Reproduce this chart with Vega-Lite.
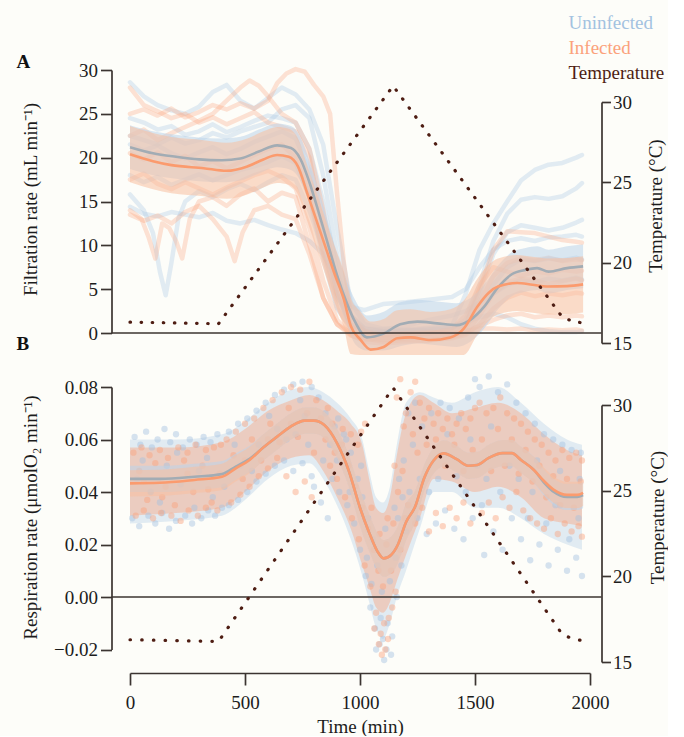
{
"$schema":"https://vega.github.io/schema/vega-lite/v6.json",
"background":"#fdfdf9",
"padding":{"left":16,"top":13,"right":0,"bottom":0},
"bounds":"flush",
"spacing":44,
"config":{
 "view":{"stroke":null},
 "font":"Liberation Serif",
 "axis":{"labelFont":"Liberation Serif","titleFont":"Liberation Serif","labelFontSize":19,"titleFontSize":19,"titleFontWeight":"normal","labelColor":"#1c1c1c","titleColor":"#1c1c1c","domainColor":"#3b3431","tickColor":"#3b3431","domainWidth":1.7,"tickWidth":1.7,"tickSize":11,"labelPadding":3,"grid":false,"labelFlush":false,"labelOverlap":false},
 "legend":{"labelFont":"Liberation Serif"},
 "title":{"font":"Liberation Serif"}
},
"datasets":{
"trA":[
{"g":"U","s":1,"t":0,"v":28.6},{"g":"U","s":1,"t":60,"v":27.0},{"g":"U","s":1,"t":120,"v":26.0},{"g":"U","s":1,"t":180,"v":25.4},{"g":"U","s":1,"t":240,"v":25.0},{"g":"U","s":1,"t":300,"v":25.8},{"g":"U","s":1,"t":360,"v":27.5},{"g":"U","s":1,"t":420,"v":28.3},{"g":"U","s":1,"t":480,"v":26.5},{"g":"U","s":1,"t":540,"v":25.6},{"g":"U","s":1,"t":600,"v":26.8},{"g":"U","s":1,"t":660,"v":28.0},{"g":"U","s":1,"t":720,"v":27.2},{"g":"U","s":1,"t":780,"v":25.5},{"g":"U","s":1,"t":840,"v":21.5},{"g":"U","s":1,"t":900,"v":12.0},{"g":"U","s":1,"t":960,"v":3.5},{"g":"U","s":1,"t":1020,"v":1.0},{"g":"U","s":1,"t":1100,"v":0.5},{"g":"U","s":1,"t":1200,"v":0.4},{"g":"U","s":1,"t":1300,"v":0.6},{"g":"U","s":1,"t":1400,"v":0.8},{"g":"U","s":1,"t":1460,"v":4.5},{"g":"U","s":1,"t":1520,"v":9.5},{"g":"U","s":1,"t":1580,"v":12.5},{"g":"U","s":1,"t":1640,"v":15.0},{"g":"U","s":1,"t":1700,"v":17.4},{"g":"U","s":1,"t":1760,"v":18.6},{"g":"U","s":1,"t":1820,"v":19.2},{"g":"U","s":1,"t":1880,"v":19.4},{"g":"U","s":1,"t":1940,"v":20.0},{"g":"U","s":1,"t":1965,"v":20.3},
{"g":"U","s":2,"t":0,"v":24.5},{"g":"U","s":2,"t":60,"v":24.0},{"g":"U","s":2,"t":120,"v":23.2},{"g":"U","s":2,"t":180,"v":23.6},{"g":"U","s":2,"t":240,"v":22.6},{"g":"U","s":2,"t":300,"v":23.0},{"g":"U","s":2,"t":360,"v":23.8},{"g":"U","s":2,"t":420,"v":22.9},{"g":"U","s":2,"t":480,"v":23.5},{"g":"U","s":2,"t":540,"v":24.2},{"g":"U","s":2,"t":600,"v":24.8},{"g":"U","s":2,"t":660,"v":24.5},{"g":"U","s":2,"t":720,"v":24.0},{"g":"U","s":2,"t":780,"v":21.0},{"g":"U","s":2,"t":840,"v":15.0},{"g":"U","s":2,"t":900,"v":7.0},{"g":"U","s":2,"t":960,"v":2.0},{"g":"U","s":2,"t":1020,"v":0.5},{"g":"U","s":2,"t":1100,"v":0.2},{"g":"U","s":2,"t":1200,"v":0.3},{"g":"U","s":2,"t":1300,"v":0.4},{"g":"U","s":2,"t":1400,"v":0.6},{"g":"U","s":2,"t":1460,"v":1.5},{"g":"U","s":2,"t":1520,"v":5.5},{"g":"U","s":2,"t":1580,"v":10.5},{"g":"U","s":2,"t":1640,"v":13.6},{"g":"U","s":2,"t":1700,"v":15.2},{"g":"U","s":2,"t":1760,"v":15.5},{"g":"U","s":2,"t":1820,"v":15.3},{"g":"U","s":2,"t":1880,"v":15.6},{"g":"U","s":2,"t":1940,"v":16.5},{"g":"U","s":2,"t":1965,"v":17.1},
{"g":"U","s":3,"t":0,"v":21.5},{"g":"U","s":3,"t":60,"v":20.8},{"g":"U","s":3,"t":120,"v":21.4},{"g":"U","s":3,"t":180,"v":20.5},{"g":"U","s":3,"t":240,"v":19.9},{"g":"U","s":3,"t":300,"v":20.6},{"g":"U","s":3,"t":360,"v":21.2},{"g":"U","s":3,"t":420,"v":20.4},{"g":"U","s":3,"t":480,"v":21.0},{"g":"U","s":3,"t":540,"v":21.8},{"g":"U","s":3,"t":600,"v":22.4},{"g":"U","s":3,"t":660,"v":23.0},{"g":"U","s":3,"t":720,"v":22.2},{"g":"U","s":3,"t":780,"v":18.5},{"g":"U","s":3,"t":840,"v":11.5},{"g":"U","s":3,"t":900,"v":4.5},{"g":"U","s":3,"t":960,"v":1.0},{"g":"U","s":3,"t":1020,"v":0.3},{"g":"U","s":3,"t":1100,"v":0.1},{"g":"U","s":3,"t":1200,"v":0.3},{"g":"U","s":3,"t":1300,"v":0.2},{"g":"U","s":3,"t":1400,"v":0.4},{"g":"U","s":3,"t":1460,"v":1.0},{"g":"U","s":3,"t":1520,"v":4.5},{"g":"U","s":3,"t":1580,"v":9.0},{"g":"U","s":3,"t":1640,"v":11.5},{"g":"U","s":3,"t":1700,"v":12.3},{"g":"U","s":3,"t":1760,"v":12.0},{"g":"U","s":3,"t":1820,"v":11.7},{"g":"U","s":3,"t":1880,"v":12.0},{"g":"U","s":3,"t":1940,"v":12.6},{"g":"U","s":3,"t":1965,"v":12.9},
{"g":"U","s":4,"t":0,"v":18.0},{"g":"U","s":4,"t":60,"v":17.2},{"g":"U","s":4,"t":120,"v":17.8},{"g":"U","s":4,"t":180,"v":16.9},{"g":"U","s":4,"t":240,"v":17.5},{"g":"U","s":4,"t":300,"v":18.1},{"g":"U","s":4,"t":360,"v":17.4},{"g":"U","s":4,"t":420,"v":18.0},{"g":"U","s":4,"t":480,"v":18.6},{"g":"U","s":4,"t":540,"v":19.0},{"g":"U","s":4,"t":600,"v":19.5},{"g":"U","s":4,"t":660,"v":20.2},{"g":"U","s":4,"t":720,"v":19.4},{"g":"U","s":4,"t":780,"v":15.5},{"g":"U","s":4,"t":840,"v":8.5},{"g":"U","s":4,"t":900,"v":2.8},{"g":"U","s":4,"t":960,"v":0.6},{"g":"U","s":4,"t":1020,"v":0.1},{"g":"U","s":4,"t":1100,"v":0.0},{"g":"U","s":4,"t":1200,"v":0.2},{"g":"U","s":4,"t":1300,"v":0.4},{"g":"U","s":4,"t":1400,"v":0.6},{"g":"U","s":4,"t":1460,"v":0.9},{"g":"U","s":4,"t":1520,"v":2.5},{"g":"U","s":4,"t":1580,"v":5.5},{"g":"U","s":4,"t":1640,"v":7.5},{"g":"U","s":4,"t":1700,"v":8.4},{"g":"U","s":4,"t":1760,"v":8.2},{"g":"U","s":4,"t":1820,"v":8.5},{"g":"U","s":4,"t":1880,"v":8.3},{"g":"U","s":4,"t":1940,"v":8.6},{"g":"U","s":4,"t":1965,"v":8.4},
{"g":"U","s":5,"t":0,"v":14.4},{"g":"U","s":5,"t":60,"v":13.6},{"g":"U","s":5,"t":120,"v":13.3},{"g":"U","s":5,"t":180,"v":13.8},{"g":"U","s":5,"t":240,"v":13.5},{"g":"U","s":5,"t":300,"v":13.2},{"g":"U","s":5,"t":360,"v":13.7},{"g":"U","s":5,"t":420,"v":12.8},{"g":"U","s":5,"t":480,"v":12.5},{"g":"U","s":5,"t":540,"v":12.9},{"g":"U","s":5,"t":600,"v":12.3},{"g":"U","s":5,"t":660,"v":11.8},{"g":"U","s":5,"t":720,"v":11.4},{"g":"U","s":5,"t":780,"v":10.5},{"g":"U","s":5,"t":840,"v":9.0},{"g":"U","s":5,"t":900,"v":6.0},{"g":"U","s":5,"t":960,"v":3.0},{"g":"U","s":5,"t":1020,"v":2.6},{"g":"U","s":5,"t":1100,"v":3.3},{"g":"U","s":5,"t":1200,"v":3.5},{"g":"U","s":5,"t":1300,"v":3.8},{"g":"U","s":5,"t":1400,"v":4.1},{"g":"U","s":5,"t":1460,"v":5.0},{"g":"U","s":5,"t":1520,"v":7.5},{"g":"U","s":5,"t":1580,"v":9.5},{"g":"U","s":5,"t":1640,"v":10.5},{"g":"U","s":5,"t":1700,"v":10.8},{"g":"U","s":5,"t":1760,"v":10.5},{"g":"U","s":5,"t":1820,"v":10.9},{"g":"U","s":5,"t":1880,"v":11.0},{"g":"U","s":5,"t":1940,"v":11.2},{"g":"U","s":5,"t":1965,"v":11.0},
{"g":"U","s":6,"t":0,"v":15.8},{"g":"U","s":6,"t":60,"v":14.0},{"g":"U","s":6,"t":100,"v":11.4},{"g":"U","s":6,"t":130,"v":7.0},{"g":"U","s":6,"t":155,"v":4.3},{"g":"U","s":6,"t":180,"v":8.0},{"g":"U","s":6,"t":210,"v":13.0},{"g":"U","s":6,"t":240,"v":15.0},{"g":"U","s":6,"t":300,"v":16.2},{"g":"U","s":6,"t":360,"v":15.5},{"g":"U","s":6,"t":420,"v":16.4},{"g":"U","s":6,"t":480,"v":17.0},{"g":"U","s":6,"t":540,"v":16.3},{"g":"U","s":6,"t":600,"v":17.2},{"g":"U","s":6,"t":660,"v":18.0},{"g":"U","s":6,"t":720,"v":17.5},{"g":"U","s":6,"t":780,"v":14.0},{"g":"U","s":6,"t":840,"v":9.5},{"g":"U","s":6,"t":900,"v":4.0},{"g":"U","s":6,"t":960,"v":1.2},{"g":"U","s":6,"t":1020,"v":0.5},{"g":"U","s":6,"t":1100,"v":0.4},{"g":"U","s":6,"t":1200,"v":0.8},{"g":"U","s":6,"t":1300,"v":1.5},{"g":"U","s":6,"t":1400,"v":2.0},{"g":"U","s":6,"t":1460,"v":2.5},{"g":"U","s":6,"t":1520,"v":3.5},{"g":"U","s":6,"t":1580,"v":4.5},{"g":"U","s":6,"t":1640,"v":5.5},{"g":"U","s":6,"t":1700,"v":6.0},{"g":"U","s":6,"t":1760,"v":5.8},{"g":"U","s":6,"t":1820,"v":6.2},{"g":"U","s":6,"t":1880,"v":6.0},{"g":"U","s":6,"t":1940,"v":6.3},{"g":"U","s":6,"t":1965,"v":6.1},
{"g":"U","s":7,"t":0,"v":22.5},{"g":"U","s":7,"t":60,"v":22.0},{"g":"U","s":7,"t":120,"v":21.5},{"g":"U","s":7,"t":180,"v":22.3},{"g":"U","s":7,"t":240,"v":21.6},{"g":"U","s":7,"t":300,"v":22.0},{"g":"U","s":7,"t":360,"v":22.8},{"g":"U","s":7,"t":420,"v":22.3},{"g":"U","s":7,"t":480,"v":23.0},{"g":"U","s":7,"t":540,"v":23.5},{"g":"U","s":7,"t":600,"v":24.0},{"g":"U","s":7,"t":660,"v":25.5},{"g":"U","s":7,"t":720,"v":26.0},{"g":"U","s":7,"t":780,"v":24.5},{"g":"U","s":7,"t":840,"v":18.0},{"g":"U","s":7,"t":900,"v":9.0},{"g":"U","s":7,"t":960,"v":2.0},{"g":"U","s":7,"t":1020,"v":0.5},{"g":"U","s":7,"t":1100,"v":0.2},{"g":"U","s":7,"t":1200,"v":0.3},{"g":"U","s":7,"t":1300,"v":0.5},{"g":"U","s":7,"t":1400,"v":0.8},{"g":"U","s":7,"t":1460,"v":1.2},{"g":"U","s":7,"t":1520,"v":1.8},{"g":"U","s":7,"t":1580,"v":2.2},{"g":"U","s":7,"t":1640,"v":1.8},{"g":"U","s":7,"t":1700,"v":1.0},{"g":"U","s":7,"t":1760,"v":0.5},{"g":"U","s":7,"t":1820,"v":0.2},{"g":"U","s":7,"t":1880,"v":0.1},{"g":"U","s":7,"t":1940,"v":0.1},{"g":"U","s":7,"t":1965,"v":0.2},
{"g":"I","s":1,"t":0,"v":25.0},{"g":"I","s":1,"t":60,"v":25.5},{"g":"I","s":1,"t":120,"v":24.8},{"g":"I","s":1,"t":180,"v":25.6},{"g":"I","s":1,"t":240,"v":24.6},{"g":"I","s":1,"t":300,"v":25.2},{"g":"I","s":1,"t":360,"v":26.0},{"g":"I","s":1,"t":420,"v":25.5},{"g":"I","s":1,"t":480,"v":26.2},{"g":"I","s":1,"t":540,"v":25.6},{"g":"I","s":1,"t":600,"v":26.5},{"g":"I","s":1,"t":640,"v":28.5},{"g":"I","s":1,"t":680,"v":29.6},{"g":"I","s":1,"t":720,"v":30.1},{"g":"I","s":1,"t":760,"v":29.8},{"g":"I","s":1,"t":800,"v":28.3},{"g":"I","s":1,"t":840,"v":27.0},{"g":"I","s":1,"t":870,"v":25.0},{"g":"I","s":1,"t":900,"v":16.0},{"g":"I","s":1,"t":930,"v":8.0},{"g":"I","s":1,"t":960,"v":2.0},{"g":"I","s":1,"t":1020,"v":0.2},{"g":"I","s":1,"t":1100,"v":-0.3},{"g":"I","s":1,"t":1200,"v":-0.2},{"g":"I","s":1,"t":1300,"v":0.0},{"g":"I","s":1,"t":1400,"v":0.2},{"g":"I","s":1,"t":1460,"v":1.0},{"g":"I","s":1,"t":1520,"v":5.0},{"g":"I","s":1,"t":1580,"v":9.5},{"g":"I","s":1,"t":1640,"v":11.6},{"g":"I","s":1,"t":1700,"v":11.5},{"g":"I","s":1,"t":1760,"v":11.4},{"g":"I","s":1,"t":1820,"v":11.0},{"g":"I","s":1,"t":1880,"v":10.6},{"g":"I","s":1,"t":1940,"v":10.4},{"g":"I","s":1,"t":1965,"v":10.3},
{"g":"I","s":2,"t":0,"v":28.0},{"g":"I","s":2,"t":60,"v":26.0},{"g":"I","s":2,"t":120,"v":25.3},{"g":"I","s":2,"t":180,"v":24.5},{"g":"I","s":2,"t":240,"v":25.0},{"g":"I","s":2,"t":300,"v":24.0},{"g":"I","s":2,"t":360,"v":24.6},{"g":"I","s":2,"t":420,"v":23.8},{"g":"I","s":2,"t":480,"v":24.5},{"g":"I","s":2,"t":540,"v":25.2},{"g":"I","s":2,"t":600,"v":24.0},{"g":"I","s":2,"t":660,"v":23.5},{"g":"I","s":2,"t":720,"v":23.0},{"g":"I","s":2,"t":780,"v":20.0},{"g":"I","s":2,"t":840,"v":12.0},{"g":"I","s":2,"t":900,"v":4.5},{"g":"I","s":2,"t":960,"v":0.8},{"g":"I","s":2,"t":1020,"v":-0.5},{"g":"I","s":2,"t":1100,"v":-0.8},{"g":"I","s":2,"t":1200,"v":-0.6},{"g":"I","s":2,"t":1300,"v":-0.4},{"g":"I","s":2,"t":1400,"v":-0.2},{"g":"I","s":2,"t":1460,"v":0.6},{"g":"I","s":2,"t":1520,"v":3.5},{"g":"I","s":2,"t":1580,"v":6.5},{"g":"I","s":2,"t":1640,"v":8.0},{"g":"I","s":2,"t":1700,"v":8.5},{"g":"I","s":2,"t":1760,"v":8.3},{"g":"I","s":2,"t":1820,"v":8.6},{"g":"I","s":2,"t":1880,"v":8.2},{"g":"I","s":2,"t":1940,"v":8.4},{"g":"I","s":2,"t":1965,"v":8.3},
{"g":"I","s":3,"t":0,"v":20.5},{"g":"I","s":3,"t":60,"v":19.8},{"g":"I","s":3,"t":120,"v":20.6},{"g":"I","s":3,"t":180,"v":19.5},{"g":"I","s":3,"t":240,"v":20.2},{"g":"I","s":3,"t":300,"v":19.0},{"g":"I","s":3,"t":360,"v":19.6},{"g":"I","s":3,"t":420,"v":18.8},{"g":"I","s":3,"t":480,"v":19.5},{"g":"I","s":3,"t":540,"v":20.3},{"g":"I","s":3,"t":600,"v":21.0},{"g":"I","s":3,"t":660,"v":21.5},{"g":"I","s":3,"t":720,"v":20.0},{"g":"I","s":3,"t":780,"v":16.0},{"g":"I","s":3,"t":840,"v":9.0},{"g":"I","s":3,"t":900,"v":3.0},{"g":"I","s":3,"t":960,"v":0.3},{"g":"I","s":3,"t":1020,"v":-0.6},{"g":"I","s":3,"t":1100,"v":-1.0},{"g":"I","s":3,"t":1200,"v":-0.8},{"g":"I","s":3,"t":1300,"v":-0.9},{"g":"I","s":3,"t":1400,"v":-0.5},{"g":"I","s":3,"t":1460,"v":0.0},{"g":"I","s":3,"t":1520,"v":2.0},{"g":"I","s":3,"t":1580,"v":4.5},{"g":"I","s":3,"t":1640,"v":5.8},{"g":"I","s":3,"t":1700,"v":6.2},{"g":"I","s":3,"t":1760,"v":6.0},{"g":"I","s":3,"t":1820,"v":5.6},{"g":"I","s":3,"t":1880,"v":5.9},{"g":"I","s":3,"t":1940,"v":6.2},{"g":"I","s":3,"t":1965,"v":6.0},
{"g":"I","s":4,"t":0,"v":17.5},{"g":"I","s":4,"t":60,"v":18.2},{"g":"I","s":4,"t":120,"v":17.0},{"g":"I","s":4,"t":180,"v":16.4},{"g":"I","s":4,"t":240,"v":17.2},{"g":"I","s":4,"t":300,"v":16.5},{"g":"I","s":4,"t":360,"v":15.8},{"g":"I","s":4,"t":420,"v":16.6},{"g":"I","s":4,"t":480,"v":17.3},{"g":"I","s":4,"t":540,"v":18.0},{"g":"I","s":4,"t":600,"v":18.5},{"g":"I","s":4,"t":660,"v":17.8},{"g":"I","s":4,"t":720,"v":16.5},{"g":"I","s":4,"t":780,"v":12.0},{"g":"I","s":4,"t":840,"v":6.0},{"g":"I","s":4,"t":900,"v":1.5},{"g":"I","s":4,"t":960,"v":-0.2},{"g":"I","s":4,"t":1020,"v":-1.0},{"g":"I","s":4,"t":1100,"v":-1.2},{"g":"I","s":4,"t":1200,"v":-1.0},{"g":"I","s":4,"t":1300,"v":-0.8},{"g":"I","s":4,"t":1400,"v":-0.6},{"g":"I","s":4,"t":1460,"v":-0.2},{"g":"I","s":4,"t":1520,"v":1.0},{"g":"I","s":4,"t":1580,"v":2.8},{"g":"I","s":4,"t":1640,"v":4.0},{"g":"I","s":4,"t":1700,"v":4.6},{"g":"I","s":4,"t":1760,"v":4.2},{"g":"I","s":4,"t":1820,"v":4.5},{"g":"I","s":4,"t":1880,"v":4.3},{"g":"I","s":4,"t":1940,"v":4.6},{"g":"I","s":4,"t":1965,"v":4.5},
{"g":"I","s":5,"t":0,"v":14.0},{"g":"I","s":5,"t":50,"v":13.0},{"g":"I","s":5,"t":80,"v":11.0},{"g":"I","s":5,"t":110,"v":8.5},{"g":"I","s":5,"t":140,"v":12.5},{"g":"I","s":5,"t":170,"v":12.0},{"g":"I","s":5,"t":200,"v":10.5},{"g":"I","s":5,"t":227,"v":8.5},{"g":"I","s":5,"t":260,"v":13.0},{"g":"I","s":5,"t":300,"v":15.0},{"g":"I","s":5,"t":360,"v":15.5},{"g":"I","s":5,"t":420,"v":14.5},{"g":"I","s":5,"t":480,"v":15.8},{"g":"I","s":5,"t":540,"v":16.5},{"g":"I","s":5,"t":600,"v":15.0},{"g":"I","s":5,"t":660,"v":16.0},{"g":"I","s":5,"t":720,"v":15.5},{"g":"I","s":5,"t":780,"v":10.0},{"g":"I","s":5,"t":840,"v":4.0},{"g":"I","s":5,"t":900,"v":1.0},{"g":"I","s":5,"t":960,"v":-0.3},{"g":"I","s":5,"t":1020,"v":-0.8},{"g":"I","s":5,"t":1100,"v":-0.6},{"g":"I","s":5,"t":1200,"v":-0.4},{"g":"I","s":5,"t":1300,"v":-0.5},{"g":"I","s":5,"t":1400,"v":-0.3},{"g":"I","s":5,"t":1460,"v":0.2},{"g":"I","s":5,"t":1520,"v":0.8},{"g":"I","s":5,"t":1580,"v":1.5},{"g":"I","s":5,"t":1640,"v":2.0},{"g":"I","s":5,"t":1700,"v":2.2},{"g":"I","s":5,"t":1760,"v":1.8},{"g":"I","s":5,"t":1820,"v":2.0},{"g":"I","s":5,"t":1880,"v":1.8},{"g":"I","s":5,"t":1940,"v":2.0},{"g":"I","s":5,"t":1965,"v":1.9},
{"g":"I","s":6,"t":0,"v":13.5},{"g":"I","s":6,"t":60,"v":12.8},{"g":"I","s":6,"t":120,"v":13.4},{"g":"I","s":6,"t":180,"v":12.5},{"g":"I","s":6,"t":240,"v":13.8},{"g":"I","s":6,"t":300,"v":14.5},{"g":"I","s":6,"t":360,"v":13.0},{"g":"I","s":6,"t":420,"v":11.0},{"g":"I","s":6,"t":455,"v":8.2},{"g":"I","s":6,"t":490,"v":11.5},{"g":"I","s":6,"t":540,"v":14.0},{"g":"I","s":6,"t":600,"v":14.5},{"g":"I","s":6,"t":660,"v":13.5},{"g":"I","s":6,"t":720,"v":13.0},{"g":"I","s":6,"t":780,"v":9.0},{"g":"I","s":6,"t":840,"v":4.0},{"g":"I","s":6,"t":900,"v":1.0},{"g":"I","s":6,"t":960,"v":0.0},{"g":"I","s":6,"t":1020,"v":-0.3},{"g":"I","s":6,"t":1100,"v":-0.2},{"g":"I","s":6,"t":1200,"v":0.0},{"g":"I","s":6,"t":1300,"v":0.1},{"g":"I","s":6,"t":1400,"v":0.0},{"g":"I","s":6,"t":1460,"v":0.2},{"g":"I","s":6,"t":1520,"v":0.5},{"g":"I","s":6,"t":1580,"v":0.5},{"g":"I","s":6,"t":1640,"v":0.4},{"g":"I","s":6,"t":1700,"v":0.5},{"g":"I","s":6,"t":1760,"v":0.3},{"g":"I","s":6,"t":1820,"v":0.4},{"g":"I","s":6,"t":1880,"v":0.3},{"g":"I","s":6,"t":1940,"v":0.4},{"g":"I","s":6,"t":1965,"v":0.3},
{"g":"I","s":7,"t":0,"v":22.5},{"g":"I","s":7,"t":60,"v":23.2},{"g":"I","s":7,"t":120,"v":22.0},{"g":"I","s":7,"t":180,"v":22.8},{"g":"I","s":7,"t":240,"v":23.5},{"g":"I","s":7,"t":300,"v":24.2},{"g":"I","s":7,"t":360,"v":25.0},{"g":"I","s":7,"t":420,"v":26.5},{"g":"I","s":7,"t":480,"v":28.0},{"g":"I","s":7,"t":520,"v":28.8},{"g":"I","s":7,"t":560,"v":28.2},{"g":"I","s":7,"t":600,"v":27.0},{"g":"I","s":7,"t":660,"v":25.0},{"g":"I","s":7,"t":720,"v":24.0},{"g":"I","s":7,"t":780,"v":21.0},{"g":"I","s":7,"t":840,"v":14.0},{"g":"I","s":7,"t":900,"v":5.0},{"g":"I","s":7,"t":960,"v":1.0},{"g":"I","s":7,"t":1020,"v":0.0},{"g":"I","s":7,"t":1100,"v":-0.5},{"g":"I","s":7,"t":1200,"v":-0.3},{"g":"I","s":7,"t":1300,"v":-0.1},{"g":"I","s":7,"t":1400,"v":0.5},{"g":"I","s":7,"t":1460,"v":2.0},{"g":"I","s":7,"t":1520,"v":5.5},{"g":"I","s":7,"t":1580,"v":7.5},{"g":"I","s":7,"t":1640,"v":7.0},{"g":"I","s":7,"t":1700,"v":6.5},{"g":"I","s":7,"t":1760,"v":7.0},{"g":"I","s":7,"t":1820,"v":6.8},{"g":"I","s":7,"t":1880,"v":7.2},{"g":"I","s":7,"t":1940,"v":7.0},{"g":"I","s":7,"t":1965,"v":7.1}
],
"mA":[
{"g":"U","t":0,"m":21.2,"lo":18.7,"hi":23.7},{"g":"U","t":100,"m":20.5,"lo":18.0,"hi":23.0},{"g":"U","t":200,"m":20.1,"lo":17.6,"hi":22.6},{"g":"U","t":300,"m":19.8,"lo":17.3,"hi":22.3},{"g":"U","t":400,"m":19.7,"lo":17.2,"hi":22.2},{"g":"U","t":480,"m":19.9,"lo":17.4,"hi":22.4},{"g":"U","t":560,"m":20.7,"lo":18.2,"hi":23.2},{"g":"U","t":640,"m":21.4,"lo":18.9,"hi":23.9},{"g":"U","t":700,"m":21.1,"lo":18.6,"hi":23.6},{"g":"U","t":740,"m":19.9,"lo":17.4,"hi":22.4},{"g":"U","t":780,"m":17.2,"lo":14.7,"hi":19.7},{"g":"U","t":820,"m":13.8,"lo":11.3,"hi":16.3},{"g":"U","t":860,"m":10.2,"lo":7.7,"hi":12.7},{"g":"U","t":900,"m":6.6,"lo":4.1,"hi":9.1},{"g":"U","t":940,"m":3.6,"lo":1.1,"hi":6.1},{"g":"U","t":980,"m":1.2,"lo":-1.3,"hi":3.7},{"g":"U","t":1030,"m":-0.5,"lo":-2.0,"hi":2.0},{"g":"U","t":1100,"m":-0.1,"lo":-2.0,"hi":2.4},{"g":"U","t":1175,"m":1.0,"lo":-1.5,"hi":3.5},{"g":"U","t":1250,"m":1.3,"lo":-1.2,"hi":3.8},{"g":"U","t":1335,"m":1.1,"lo":-1.4,"hi":3.6},{"g":"U","t":1420,"m":0.9,"lo":-1.6,"hi":3.4},{"g":"U","t":1480,"m":1.5,"lo":-1.0,"hi":4.0},{"g":"U","t":1540,"m":3.0,"lo":0.5,"hi":5.5},{"g":"U","t":1600,"m":5.2,"lo":2.7,"hi":7.7},{"g":"U","t":1660,"m":6.7,"lo":4.2,"hi":9.2},{"g":"U","t":1720,"m":7.2,"lo":4.7,"hi":9.7},{"g":"U","t":1770,"m":7.4,"lo":4.9,"hi":9.9},{"g":"U","t":1820,"m":7.0,"lo":4.5,"hi":9.5},{"g":"U","t":1900,"m":7.4,"lo":4.9,"hi":9.9},{"g":"U","t":1970,"m":7.6,"lo":5.1,"hi":10.1},
{"g":"I","t":0,"m":20.4,"lo":17.2,"hi":23.6},{"g":"I","t":100,"m":19.6,"lo":16.4,"hi":22.8},{"g":"I","t":180,"m":19.15,"lo":15.95,"hi":22.35},{"g":"I","t":320,"m":18.8,"lo":15.6,"hi":22.0},{"g":"I","t":420,"m":18.5,"lo":15.3,"hi":21.7},{"g":"I","t":510,"m":19.0,"lo":15.8,"hi":22.2},{"g":"I","t":580,"m":19.8,"lo":16.6,"hi":23.0},{"g":"I","t":640,"m":20.3,"lo":17.1,"hi":23.5},{"g":"I","t":690,"m":20.1,"lo":16.9,"hi":23.3},{"g":"I","t":730,"m":19.0,"lo":15.8,"hi":22.2},{"g":"I","t":770,"m":16.0,"lo":12.8,"hi":19.2},{"g":"I","t":810,"m":12.9,"lo":9.7,"hi":16.1},{"g":"I","t":850,"m":9.8,"lo":6.6,"hi":13.0},{"g":"I","t":890,"m":6.7,"lo":3.5,"hi":9.9},{"g":"I","t":930,"m":3.8,"lo":0.6,"hi":7.0},{"g":"I","t":960,"m":0.8,"lo":-2.4,"hi":4.0},{"g":"I","t":1000,"m":-0.7,"lo":-2.5,"hi":2.5},{"g":"I","t":1046,"m":-1.9,"lo":-2.5,"hi":1.3},{"g":"I","t":1103,"m":-1.6,"lo":-2.5,"hi":1.6},{"g":"I","t":1162,"m":-0.6,"lo":-2.5,"hi":2.6},{"g":"I","t":1220,"m":-0.5,"lo":-2.5,"hi":2.7},{"g":"I","t":1307,"m":-0.8,"lo":-2.5,"hi":2.4},{"g":"I","t":1393,"m":-0.5,"lo":-2.5,"hi":2.7},{"g":"I","t":1451,"m":0.5,"lo":-2.5,"hi":3.7},{"g":"I","t":1510,"m":3.0,"lo":-0.2,"hi":6.2},{"g":"I","t":1560,"m":4.6,"lo":1.4,"hi":7.8},{"g":"I","t":1600,"m":5.3,"lo":2.1,"hi":8.5},{"g":"I","t":1683,"m":5.7,"lo":2.5,"hi":8.9},{"g":"I","t":1750,"m":5.5,"lo":2.3,"hi":8.7},{"g":"I","t":1814,"m":5.3,"lo":2.1,"hi":8.5},{"g":"I","t":1900,"m":5.35,"lo":2.15,"hi":8.55},{"g":"I","t":1970,"m":5.55,"lo":2.35,"hi":8.75}
],
"temp":[
{"g":"T","t":0,"T":16.3},{"g":"T","t":385,"T":16.2},{"g":"T","t":1144,"T":31.0},{"g":"T","t":1880,"T":16.6},{"g":"T","t":1925,"T":16.35},{"g":"T","t":1967,"T":16.25}
],
"envB":[
{"g":"U","t":0,"lo":0.028,"hi":0.060},{"g":"U","t":200,"lo":0.029,"hi":0.060},{"g":"U","t":400,"lo":0.031,"hi":0.062},{"g":"U","t":500,"lo":0.037,"hi":0.067},{"g":"U","t":600,"lo":0.045,"hi":0.074},{"g":"U","t":700,"lo":0.050,"hi":0.079},{"g":"U","t":780,"lo":0.051,"hi":0.080},{"g":"U","t":840,"lo":0.045,"hi":0.078},{"g":"U","t":900,"lo":0.035,"hi":0.074},{"g":"U","t":960,"lo":0.022,"hi":0.068},{"g":"U","t":1010,"lo":0.008,"hi":0.060},{"g":"U","t":1040,"lo":-0.002,"hi":0.048},{"g":"U","t":1070,"lo":-0.012,"hi":0.038},{"g":"U","t":1100,"lo":-0.016,"hi":0.036},{"g":"U","t":1130,"lo":-0.010,"hi":0.042},{"g":"U","t":1160,"lo":0.000,"hi":0.058},{"g":"U","t":1200,"lo":0.010,"hi":0.074},{"g":"U","t":1260,"lo":0.026,"hi":0.078},{"g":"U","t":1320,"lo":0.040,"hi":0.076},{"g":"U","t":1400,"lo":0.040,"hi":0.074},{"g":"U","t":1500,"lo":0.034,"hi":0.078},{"g":"U","t":1600,"lo":0.034,"hi":0.080},{"g":"U","t":1700,"lo":0.030,"hi":0.074},{"g":"U","t":1800,"lo":0.024,"hi":0.066},{"g":"U","t":1900,"lo":0.020,"hi":0.060},{"g":"U","t":1965,"lo":0.018,"hi":0.058},
{"g":"I","t":0,"lo":0.031,"hi":0.057},{"g":"I","t":200,"lo":0.032,"hi":0.057},{"g":"I","t":400,"lo":0.034,"hi":0.059},{"g":"I","t":500,"lo":0.040,"hi":0.064},{"g":"I","t":600,"lo":0.048,"hi":0.071},{"g":"I","t":700,"lo":0.053,"hi":0.075},{"g":"I","t":780,"lo":0.054,"hi":0.077},{"g":"I","t":840,"lo":0.048,"hi":0.075},{"g":"I","t":900,"lo":0.038,"hi":0.071},{"g":"I","t":960,"lo":0.026,"hi":0.066},{"g":"I","t":1010,"lo":0.012,"hi":0.058},{"g":"I","t":1040,"lo":0.004,"hi":0.045},{"g":"I","t":1070,"lo":-0.004,"hi":0.034},{"g":"I","t":1100,"lo":-0.006,"hi":0.032},{"g":"I","t":1130,"lo":-0.002,"hi":0.038},{"g":"I","t":1160,"lo":0.006,"hi":0.054},{"g":"I","t":1200,"lo":0.016,"hi":0.070},{"g":"I","t":1260,"lo":0.030,"hi":0.077},{"g":"I","t":1320,"lo":0.045,"hi":0.074},{"g":"I","t":1400,"lo":0.044,"hi":0.070},{"g":"I","t":1500,"lo":0.040,"hi":0.072},{"g":"I","t":1600,"lo":0.042,"hi":0.074},{"g":"I","t":1700,"lo":0.038,"hi":0.070},{"g":"I","t":1800,"lo":0.030,"hi":0.062},{"g":"I","t":1900,"lo":0.028,"hi":0.056},{"g":"I","t":1965,"lo":0.027,"hi":0.054}
],
"ptsB":[
{"g":"U","t":20,"v":0.061},{"g":"U","t":45,"v":0.058},{"g":"U","t":70,"v":0.063},{"g":"U","t":95,"v":0.057},{"g":"U","t":120,"v":0.060},{"g":"U","t":150,"v":0.064},{"g":"U","t":175,"v":0.059},{"g":"U","t":200,"v":0.062},{"g":"U","t":230,"v":0.057},{"g":"U","t":260,"v":0.060},{"g":"U","t":290,"v":0.058},{"g":"U","t":320,"v":0.061},{"g":"U","t":350,"v":0.059},{"g":"U","t":380,"v":0.062},
{"g":"U","t":10,"v":0.030},{"g":"U","t":40,"v":0.027},{"g":"U","t":80,"v":0.031},{"g":"U","t":110,"v":0.028},{"g":"U","t":140,"v":0.032},{"g":"U","t":170,"v":0.026},{"g":"U","t":200,"v":0.029},{"g":"U","t":240,"v":0.031},{"g":"U","t":270,"v":0.028},{"g":"U","t":310,"v":0.030},{"g":"U","t":340,"v":0.033},{"g":"U","t":370,"v":0.031},{"g":"U","t":400,"v":0.034},
{"g":"U","t":30,"v":0.045},{"g":"U","t":90,"v":0.040},{"g":"U","t":160,"v":0.050},{"g":"U","t":220,"v":0.043},{"g":"U","t":300,"v":0.048},{"g":"U","t":360,"v":0.038},
{"g":"U","t":55,"v":0.052},{"g":"U","t":130,"v":0.036},{"g":"U","t":205,"v":0.055},{"g":"U","t":280,"v":0.034},{"g":"U","t":335,"v":0.053},{"g":"U","t":410,"v":0.042},{"g":"U","t":455,"v":0.058},{"g":"U","t":530,"v":0.048},{"g":"U","t":605,"v":0.069},{"g":"U","t":680,"v":0.060},{"g":"U","t":740,"v":0.075},{"g":"U","t":775,"v":0.058},
{"g":"U","t":430,"v":0.063},{"g":"U","t":470,"v":0.066},{"g":"U","t":510,"v":0.068},{"g":"U","t":550,"v":0.071},{"g":"U","t":590,"v":0.074},{"g":"U","t":630,"v":0.077},{"g":"U","t":670,"v":0.079},{"g":"U","t":710,"v":0.081},{"g":"U","t":750,"v":0.082},{"g":"U","t":790,"v":0.080},
{"g":"U","t":430,"v":0.035},{"g":"U","t":470,"v":0.037},{"g":"U","t":510,"v":0.040},{"g":"U","t":550,"v":0.044},{"g":"U","t":590,"v":0.047},{"g":"U","t":630,"v":0.050},{"g":"U","t":670,"v":0.052},{"g":"U","t":710,"v":0.048},{"g":"U","t":750,"v":0.051},{"g":"U","t":790,"v":0.046},
{"g":"U","t":480,"v":0.050},{"g":"U","t":560,"v":0.058},{"g":"U","t":640,"v":0.064},{"g":"U","t":720,"v":0.062},{"g":"U","t":760,"v":0.069},
{"g":"U","t":800,"v":0.042},{"g":"U","t":820,"v":0.076},{"g":"U","t":830,"v":0.036},{"g":"U","t":840,"v":0.052},{"g":"U","t":850,"v":0.070},{"g":"U","t":860,"v":0.030},{"g":"U","t":870,"v":0.058},{"g":"U","t":880,"v":0.045},{"g":"U","t":890,"v":0.065},{"g":"U","t":900,"v":0.052},{"g":"U","t":905,"v":0.068},{"g":"U","t":910,"v":0.040},{"g":"U","t":930,"v":0.062},{"g":"U","t":940,"v":0.060},{"g":"U","t":945,"v":0.035},{"g":"U","t":955,"v":0.040},{"g":"U","t":960,"v":0.055},{"g":"U","t":975,"v":0.028},{"g":"U","t":990,"v":0.045},{"g":"U","t":1000,"v":0.018},{"g":"U","t":1005,"v":0.050},{"g":"U","t":1010,"v":0.038},{"g":"U","t":1025,"v":0.008},{"g":"U","t":1030,"v":0.015},{"g":"U","t":1035,"v":0.030},{"g":"U","t":1045,"v":-0.004},{"g":"U","t":1050,"v":0.005},{"g":"U","t":1055,"v":0.022},{"g":"U","t":1065,"v":-0.012},{"g":"U","t":1070,"v":-0.020},{"g":"U","t":1075,"v":0.012},{"g":"U","t":1085,"v":-0.018},{"g":"U","t":1090,"v":-0.008},{"g":"U","t":1095,"v":0.002},{"g":"U","t":1100,"v":-0.016},{"g":"U","t":1105,"v":-0.024},{"g":"U","t":1110,"v":0.026},{"g":"U","t":1115,"v":-0.020},{"g":"U","t":1120,"v":-0.010},{"g":"U","t":1130,"v":0.006},{"g":"U","t":1135,"v":-0.022},{"g":"U","t":1140,"v":-0.015},{"g":"U","t":1150,"v":0.034},{"g":"U","t":1155,"v":0.015},{"g":"U","t":1160,"v":0.000},{"g":"U","t":1165,"v":0.030},{"g":"U","t":1170,"v":0.045},{"g":"U","t":1180,"v":0.012},{"g":"U","t":1185,"v":0.038},{"g":"U","t":1190,"v":0.052},{"g":"U","t":1200,"v":0.025},
{"g":"U","t":1210,"v":0.070},{"g":"U","t":1215,"v":0.040},{"g":"U","t":1230,"v":0.058},{"g":"U","t":1240,"v":0.074},{"g":"U","t":1250,"v":0.030},{"g":"U","t":1260,"v":0.045},{"g":"U","t":1270,"v":0.065},{"g":"U","t":1290,"v":0.024},{"g":"U","t":1300,"v":0.040},{"g":"U","t":1310,"v":0.070},{"g":"U","t":1330,"v":0.028},{"g":"U","t":1340,"v":0.045},{"g":"U","t":1350,"v":0.074},{"g":"U","t":1370,"v":0.033},{"g":"U","t":1380,"v":0.062},{"g":"U","t":1390,"v":0.072},{"g":"U","t":1410,"v":0.026},{"g":"U","t":1420,"v":0.046},{"g":"U","t":1430,"v":0.068},{"g":"U","t":1450,"v":0.022},{"g":"U","t":1460,"v":0.040},{"g":"U","t":1470,"v":0.076},{"g":"U","t":1480,"v":0.060},{"g":"U","t":1490,"v":0.030},{"g":"U","t":1500,"v":0.083},
{"g":"U","t":1510,"v":0.050},{"g":"U","t":1520,"v":0.080},{"g":"U","t":1530,"v":0.035},{"g":"U","t":1540,"v":0.016},{"g":"U","t":1560,"v":0.084},{"g":"U","t":1570,"v":0.065},{"g":"U","t":1580,"v":0.025},{"g":"U","t":1600,"v":0.078},{"g":"U","t":1610,"v":0.040},{"g":"U","t":1620,"v":0.018},{"g":"U","t":1640,"v":0.081},{"g":"U","t":1660,"v":0.030},{"g":"U","t":1680,"v":0.074},{"g":"U","t":1690,"v":0.045},{"g":"U","t":1700,"v":0.022},{"g":"U","t":1720,"v":0.070},{"g":"U","t":1730,"v":0.030},{"g":"U","t":1740,"v":0.014},{"g":"U","t":1760,"v":0.066},{"g":"U","t":1770,"v":0.052},{"g":"U","t":1780,"v":0.020},{"g":"U","t":1800,"v":0.062},{"g":"U","t":1810,"v":0.028},{"g":"U","t":1820,"v":0.012},{"g":"U","t":1840,"v":0.060},{"g":"U","t":1860,"v":0.018},{"g":"U","t":1870,"v":0.048},{"g":"U","t":1880,"v":0.058},{"g":"U","t":1900,"v":0.010},{"g":"U","t":1910,"v":0.022},{"g":"U","t":1920,"v":0.056},{"g":"U","t":1940,"v":0.015},{"g":"U","t":1955,"v":0.045},{"g":"U","t":1960,"v":0.055},{"g":"U","t":1965,"v":0.008},{"g":"U","t":1550,"v":0.045},{"g":"U","t":1650,"v":0.050},{"g":"U","t":1750,"v":0.040},{"g":"U","t":1850,"v":0.035},{"g":"U","t":1950,"v":0.030},
{"g":"I","t":15,"v":0.055},{"g":"I","t":50,"v":0.057},{"g":"I","t":85,"v":0.054},{"g":"I","t":130,"v":0.056},{"g":"I","t":165,"v":0.053},{"g":"I","t":210,"v":0.057},{"g":"I","t":250,"v":0.055},{"g":"I","t":285,"v":0.058},{"g":"I","t":330,"v":0.056},{"g":"I","t":365,"v":0.057},{"g":"I","t":395,"v":0.058},
{"g":"I","t":25,"v":0.031},{"g":"I","t":60,"v":0.033},{"g":"I","t":100,"v":0.030},{"g":"I","t":135,"v":0.032},{"g":"I","t":180,"v":0.031},{"g":"I","t":220,"v":0.029},{"g":"I","t":255,"v":0.033},{"g":"I","t":295,"v":0.031},{"g":"I","t":330,"v":0.034},{"g":"I","t":380,"v":0.033},
{"g":"I","t":60,"v":0.044},{"g":"I","t":140,"v":0.038},{"g":"I","t":250,"v":0.047},{"g":"I","t":340,"v":0.041},
{"g":"I","t":40,"v":0.048},{"g":"I","t":75,"v":0.037},{"g":"I","t":110,"v":0.051},{"g":"I","t":155,"v":0.042},{"g":"I","t":195,"v":0.035},{"g":"I","t":235,"v":0.052},{"g":"I","t":275,"v":0.040},{"g":"I","t":315,"v":0.050},{"g":"I","t":355,"v":0.036},{"g":"I","t":390,"v":0.047},
{"g":"I","t":420,"v":0.060},{"g":"I","t":460,"v":0.063},{"g":"I","t":500,"v":0.066},{"g":"I","t":540,"v":0.068},{"g":"I","t":580,"v":0.072},{"g":"I","t":620,"v":0.075},{"g":"I","t":660,"v":0.078},{"g":"I","t":700,"v":0.080},{"g":"I","t":740,"v":0.079},{"g":"I","t":780,"v":0.082},
{"g":"I","t":440,"v":0.036},{"g":"I","t":480,"v":0.039},{"g":"I","t":520,"v":0.042},{"g":"I","t":560,"v":0.046},{"g":"I","t":600,"v":0.049},{"g":"I","t":640,"v":0.053},{"g":"I","t":680,"v":0.046},{"g":"I","t":720,"v":0.040},{"g":"I","t":760,"v":0.044},{"g":"I","t":790,"v":0.038},
{"g":"I","t":500,"v":0.052},{"g":"I","t":600,"v":0.060},{"g":"I","t":700,"v":0.066},
{"g":"I","t":450,"v":0.054},{"g":"I","t":490,"v":0.045},{"g":"I","t":530,"v":0.060},{"g":"I","t":570,"v":0.052},{"g":"I","t":610,"v":0.066},{"g":"I","t":650,"v":0.059},{"g":"I","t":690,"v":0.072},{"g":"I","t":730,"v":0.061},{"g":"I","t":770,"v":0.070},{"g":"I","t":800,"v":0.055},
{"g":"I","t":810,"v":0.075},{"g":"I","t":830,"v":0.068},{"g":"I","t":850,"v":0.060},{"g":"I","t":860,"v":0.072},{"g":"I","t":870,"v":0.050},{"g":"I","t":880,"v":0.066},{"g":"I","t":890,"v":0.055},{"g":"I","t":900,"v":0.045},{"g":"I","t":920,"v":0.058},{"g":"I","t":925,"v":0.064},{"g":"I","t":935,"v":0.038},{"g":"I","t":950,"v":0.050},{"g":"I","t":960,"v":0.062},{"g":"I","t":965,"v":0.030},{"g":"I","t":980,"v":0.042},{"g":"I","t":990,"v":0.058},{"g":"I","t":995,"v":0.022},{"g":"I","t":1005,"v":0.063},{"g":"I","t":1010,"v":0.034},{"g":"I","t":1020,"v":0.012},{"g":"I","t":1022,"v":0.066},{"g":"I","t":1035,"v":0.026},{"g":"I","t":1045,"v":0.004},{"g":"I","t":1050,"v":0.034},{"g":"I","t":1060,"v":0.018},{"g":"I","t":1062,"v":-0.012},{"g":"I","t":1070,"v":-0.006},{"g":"I","t":1080,"v":0.010},{"g":"I","t":1082,"v":-0.018},{"g":"I","t":1085,"v":0.024},{"g":"I","t":1090,"v":-0.014},{"g":"I","t":1095,"v":-0.022},{"g":"I","t":1100,"v":0.004},{"g":"I","t":1105,"v":-0.010},{"g":"I","t":1110,"v":-0.020},{"g":"I","t":1115,"v":0.020},{"g":"I","t":1120,"v":0.030},{"g":"I","t":1122,"v":-0.016},{"g":"I","t":1125,"v":-0.008},{"g":"I","t":1135,"v":0.010},{"g":"I","t":1140,"v":-0.004},{"g":"I","t":1145,"v":0.028},{"g":"I","t":1150,"v":0.050},{"g":"I","t":1155,"v":0.002},{"g":"I","t":1165,"v":0.040},{"g":"I","t":1175,"v":0.018},{"g":"I","t":1185,"v":0.048},{"g":"I","t":1190,"v":0.065},{"g":"I","t":1195,"v":0.030},
{"g":"I","t":1160,"v":0.076},{"g":"I","t":1175,"v":0.083},{"g":"I","t":1200,"v":0.070},{"g":"I","t":1220,"v":0.078},{"g":"I","t":1230,"v":0.062},{"g":"I","t":1240,"v":0.082},{"g":"I","t":1250,"v":0.055},{"g":"I","t":1260,"v":0.074},{"g":"I","t":1280,"v":0.068},{"g":"I","t":1290,"v":0.058},{"g":"I","t":1300,"v":0.072},{"g":"I","t":1320,"v":0.066},{"g":"I","t":1330,"v":0.060},{"g":"I","t":1340,"v":0.070},{"g":"I","t":1360,"v":0.064},{"g":"I","t":1370,"v":0.050},{"g":"I","t":1380,"v":0.068},{"g":"I","t":1400,"v":0.062},{"g":"I","t":1410,"v":0.058},{"g":"I","t":1420,"v":0.066},{"g":"I","t":1440,"v":0.070},{"g":"I","t":1450,"v":0.048},{"g":"I","t":1460,"v":0.064},{"g":"I","t":1480,"v":0.068},{"g":"I","t":1490,"v":0.056},{"g":"I","t":1500,"v":0.072},
{"g":"I","t":1210,"v":0.035},{"g":"I","t":1240,"v":0.028},{"g":"I","t":1270,"v":0.034},{"g":"I","t":1300,"v":0.025},{"g":"I","t":1330,"v":0.032},{"g":"I","t":1360,"v":0.027},{"g":"I","t":1390,"v":0.034},{"g":"I","t":1420,"v":0.030},{"g":"I","t":1450,"v":0.036},{"g":"I","t":1480,"v":0.028},
{"g":"I","t":1520,"v":0.074},{"g":"I","t":1530,"v":0.060},{"g":"I","t":1550,"v":0.070},{"g":"I","t":1570,"v":0.048},{"g":"I","t":1580,"v":0.072},{"g":"I","t":1600,"v":0.064},{"g":"I","t":1610,"v":0.076},{"g":"I","t":1630,"v":0.050},{"g":"I","t":1640,"v":0.070},{"g":"I","t":1660,"v":0.060},{"g":"I","t":1670,"v":0.068},{"g":"I","t":1690,"v":0.047},{"g":"I","t":1700,"v":0.066},{"g":"I","t":1720,"v":0.056},{"g":"I","t":1730,"v":0.063},{"g":"I","t":1750,"v":0.044},{"g":"I","t":1760,"v":0.060},{"g":"I","t":1780,"v":0.050},{"g":"I","t":1790,"v":0.058},{"g":"I","t":1810,"v":0.038},{"g":"I","t":1820,"v":0.055},{"g":"I","t":1840,"v":0.046},{"g":"I","t":1850,"v":0.052},{"g":"I","t":1870,"v":0.035},{"g":"I","t":1880,"v":0.056},{"g":"I","t":1900,"v":0.045},{"g":"I","t":1910,"v":0.053},{"g":"I","t":1930,"v":0.034},{"g":"I","t":1940,"v":0.055},{"g":"I","t":1960,"v":0.044},{"g":"I","t":1965,"v":0.052},
{"g":"I","t":1530,"v":0.032},{"g":"I","t":1560,"v":0.036},{"g":"I","t":1590,"v":0.030},{"g":"I","t":1620,"v":0.038},{"g":"I","t":1650,"v":0.034},{"g":"I","t":1680,"v":0.040},{"g":"I","t":1710,"v":0.033},{"g":"I","t":1740,"v":0.030},{"g":"I","t":1770,"v":0.028},{"g":"I","t":1800,"v":0.026},{"g":"I","t":1830,"v":0.030},{"g":"I","t":1860,"v":0.024},{"g":"I","t":1890,"v":0.028},{"g":"I","t":1920,"v":0.025},{"g":"I","t":1950,"v":0.027},{"g":"I","t":1965,"v":0.023}
],
"mB":[
{"g":"U","t":0,"m":0.0450,"lo":0.0400,"hi":0.0500},{"g":"U","t":130,"m":0.0450,"lo":0.0400,"hi":0.0500},{"g":"U","t":280,"m":0.0458,"lo":0.0408,"hi":0.0508},{"g":"U","t":400,"m":0.0468,"lo":0.0418,"hi":0.0518},{"g":"U","t":460,"m":0.0497,"lo":0.0447,"hi":0.0547},{"g":"U","t":520,"m":0.0526,"lo":0.0476,"hi":0.0576},{"g":"U","t":580,"m":0.0570,"lo":0.0520,"hi":0.0620},{"g":"U","t":640,"m":0.0611,"lo":0.0561,"hi":0.0661},{"g":"U","t":700,"m":0.0650,"lo":0.0600,"hi":0.0700},{"g":"U","t":760,"m":0.0672,"lo":0.0622,"hi":0.0722},{"g":"U","t":800,"m":0.0672,"lo":0.0622,"hi":0.0722},{"g":"U","t":845,"m":0.0655,"lo":0.0605,"hi":0.0705},{"g":"U","t":900,"m":0.0586,"lo":0.0531,"hi":0.0641},{"g":"U","t":950,"m":0.0484,"lo":0.0424,"hi":0.0544},{"g":"U","t":1000,"m":0.0340,"lo":0.0270,"hi":0.0410},{"g":"U","t":1040,"m":0.0245,"lo":0.0175,"hi":0.0315},{"g":"U","t":1075,"m":0.0175,"lo":0.0105,"hi":0.0245},{"g":"U","t":1103,"m":0.0147,"lo":0.0077,"hi":0.0217},{"g":"U","t":1135,"m":0.0160,"lo":0.0090,"hi":0.0230},{"g":"U","t":1165,"m":0.0200,"lo":0.0130,"hi":0.0270},{"g":"U","t":1200,"m":0.0285,"lo":0.0215,"hi":0.0355},{"g":"U","t":1240,"m":0.0345,"lo":0.0285,"hi":0.0405},{"g":"U","t":1280,"m":0.0455,"lo":0.0405,"hi":0.0505},{"g":"U","t":1320,"m":0.0520,"lo":0.0470,"hi":0.0570},{"g":"U","t":1364,"m":0.0547,"lo":0.0497,"hi":0.0597},{"g":"U","t":1420,"m":0.0525,"lo":0.0475,"hi":0.0575},{"g":"U","t":1470,"m":0.0500,"lo":0.0450,"hi":0.0550},{"g":"U","t":1510,"m":0.0503,"lo":0.0453,"hi":0.0553},{"g":"U","t":1560,"m":0.0530,"lo":0.0480,"hi":0.0580},{"g":"U","t":1620,"m":0.0548,"lo":0.0498,"hi":0.0598},{"g":"U","t":1660,"m":0.0548,"lo":0.0498,"hi":0.0598},{"g":"U","t":1700,"m":0.0522,"lo":0.0472,"hi":0.0572},{"g":"U","t":1756,"m":0.0484,"lo":0.0434,"hi":0.0534},{"g":"U","t":1800,"m":0.0436,"lo":0.0386,"hi":0.0486},{"g":"U","t":1843,"m":0.0400,"lo":0.0350,"hi":0.0450},{"g":"U","t":1900,"m":0.0381,"lo":0.0331,"hi":0.0431},{"g":"U","t":1944,"m":0.0381,"lo":0.0331,"hi":0.0431},{"g":"U","t":1970,"m":0.0388,"lo":0.0338,"hi":0.0438},
{"g":"I","t":0,"m":0.0433,"lo":0.0383,"hi":0.0483},{"g":"I","t":130,"m":0.0435,"lo":0.0385,"hi":0.0485},{"g":"I","t":280,"m":0.0446,"lo":0.0396,"hi":0.0496},{"g":"I","t":400,"m":0.0458,"lo":0.0408,"hi":0.0508},{"g":"I","t":460,"m":0.0490,"lo":0.0440,"hi":0.0540},{"g":"I","t":520,"m":0.0522,"lo":0.0472,"hi":0.0572},{"g":"I","t":580,"m":0.0570,"lo":0.0520,"hi":0.0620},{"g":"I","t":640,"m":0.0611,"lo":0.0561,"hi":0.0661},{"g":"I","t":700,"m":0.0650,"lo":0.0600,"hi":0.0700},{"g":"I","t":760,"m":0.0672,"lo":0.0622,"hi":0.0722},{"g":"I","t":800,"m":0.0672,"lo":0.0622,"hi":0.0722},{"g":"I","t":845,"m":0.0655,"lo":0.0605,"hi":0.0705},{"g":"I","t":900,"m":0.0586,"lo":0.0531,"hi":0.0641},{"g":"I","t":950,"m":0.0484,"lo":0.0424,"hi":0.0544},{"g":"I","t":1000,"m":0.0340,"lo":0.0270,"hi":0.0410},{"g":"I","t":1040,"m":0.0245,"lo":0.0175,"hi":0.0315},{"g":"I","t":1075,"m":0.0175,"lo":0.0105,"hi":0.0245},{"g":"I","t":1103,"m":0.0147,"lo":0.0077,"hi":0.0217},{"g":"I","t":1135,"m":0.0160,"lo":0.0090,"hi":0.0230},{"g":"I","t":1165,"m":0.0200,"lo":0.0130,"hi":0.0270},{"g":"I","t":1200,"m":0.0285,"lo":0.0215,"hi":0.0355},{"g":"I","t":1240,"m":0.0345,"lo":0.0285,"hi":0.0405},{"g":"I","t":1280,"m":0.0455,"lo":0.0405,"hi":0.0505},{"g":"I","t":1320,"m":0.0520,"lo":0.0470,"hi":0.0570},{"g":"I","t":1364,"m":0.0547,"lo":0.0497,"hi":0.0597},{"g":"I","t":1420,"m":0.0525,"lo":0.0475,"hi":0.0575},{"g":"I","t":1470,"m":0.0500,"lo":0.0450,"hi":0.0550},{"g":"I","t":1510,"m":0.0503,"lo":0.0453,"hi":0.0553},{"g":"I","t":1560,"m":0.0530,"lo":0.0480,"hi":0.0580},{"g":"I","t":1620,"m":0.0548,"lo":0.0498,"hi":0.0598},{"g":"I","t":1660,"m":0.0548,"lo":0.0498,"hi":0.0598},{"g":"I","t":1700,"m":0.0522,"lo":0.0472,"hi":0.0572},{"g":"I","t":1756,"m":0.0484,"lo":0.0434,"hi":0.0534},{"g":"I","t":1800,"m":0.0442,"lo":0.0392,"hi":0.0492},{"g":"I","t":1843,"m":0.0408,"lo":0.0358,"hi":0.0458},{"g":"I","t":1900,"m":0.0389,"lo":0.0339,"hi":0.0439},{"g":"I","t":1944,"m":0.0389,"lo":0.0339,"hi":0.0439},{"g":"I","t":1970,"m":0.0397,"lo":0.0347,"hi":0.0447}
]
},
"vconcat":[
{
 "width":460,"height":273,
 "title":{"text":"A","anchor":"start","frame":"group","dx":-113.5,"offset":-26,"baseline":"alphabetic","fontSize":19,"fontWeight":"bold","color":"#111111"},
 "layer":[
   {"data":{"name":"trA"},
    "mark":{"type":"line","strokeWidth":4.5,"opacity":0.3,"strokeCap":"round","strokeJoin":"round"},
    "encoding":{
     "x":{"field":"t","type":"quantitative","scale":{"domain":[0,2000],"nice":false},"axis":null},
     "y":{"field":"v","type":"quantitative","scale":{"domain":[0,30],"range":[263,0],"nice":false,"zero":false},
          "axis":{"orient":"left","offset":18.5,"values":[0,5,10,15,20,25,30],"title":"Filtration rate (mL min⁻¹)","titleAngle":270,"titleBaseline":"middle","titleAlign":"center","titleX":-81,"titleY":129}},
     "color":{"field":"g","type":"nominal","scale":{"domain":["U","I","T"],"range":["#a3c2e0","#fba27c","#4e1d13"]},
          "legend":{"orient":"none","legendX":419.5,"legendY":-57,"title":null,"direction":"vertical","symbolSize":0,"symbolOpacity":0,"symbolStrokeWidth":0,"labelOffset":0,"labelFontSize":19,"labelFont":"Liberation Serif","rowPadding":5,"labelExpr":"datum.value == 'U' ? 'Uninfected' : datum.value == 'I' ? 'Infected' : 'Temperature'","encode":{"labels":{"update":{"fill":{"scale":"color","field":"value"}}}}}},
     "detail":{"field":"s"}}},
   {"data":{"name":"mA"},
    "mark":{"type":"area","interpolate":"monotone","opacity":0.55},
    "encoding":{
     "x":{"field":"t","type":"quantitative","scale":{"domain":[0,2000],"nice":false},"axis":null},
     "y":{"field":"lo","type":"quantitative","scale":{"domain":[0,30],"range":[263,0],"nice":false,"zero":false},"axis":null},
     "y2":{"field":"hi"},
     "fill":{"field":"g","type":"nominal","scale":{"domain":["U","I"],"range":["#bcd3e9","#f7bfa1"]},"legend":null}}},
   {"data":{"name":"mA"},
    "mark":{"type":"line","interpolate":"monotone","strokeWidth":2.6},
    "encoding":{
     "x":{"field":"t","type":"quantitative","scale":{"domain":[0,2000],"nice":false},"axis":null},
     "y":{"field":"m","type":"quantitative","scale":{"domain":[0,30],"range":[263,0],"nice":false,"zero":false},"axis":null},
     "stroke":{"field":"g","type":"nominal","scale":{"domain":["U","I"],"range":["#a2acb4","#fb9b6e"]},"legend":null}}},
   {"data":{"values":[{}]},
    "mark":{"type":"rule","color":"#3b3431","strokeWidth":1.7},
    "encoding":{
     "x":{"datum":-80,"type":"quantitative","scale":{"domain":[0,2000],"nice":false},"axis":null},
     "x2":{"datum":2050},
     "y":{"datum":0,"type":"quantitative","scale":{"domain":[0,30],"range":[263,0],"nice":false,"zero":false},"axis":null}}},
   {"data":{"name":"temp"},
    "mark":{"type":"line","strokeDash":[0.5,10.6],"strokeWidth":3.2,"strokeCap":"round"},
    "encoding":{
     "x":{"field":"t","type":"quantitative","scale":{"domain":[0,2000],"nice":false},"axis":null},
     "y":{"field":"T","type":"quantitative","scale":{"domain":[15,30],"range":[273,32],"nice":false,"zero":false},
          "axis":{"orient":"right","offset":11.5,"values":[15,20,25,30],"tickSize":9,"labelPadding":2,"title":"Temperature (°C)","titleAngle":270,"titleBaseline":"middle","titleAlign":"center","titleX":54,"titleY":135.5}},
     "color":{"field":"g","type":"nominal","legend":null}}}
 ],
 "resolve":{"scale":{"y":"independent"},"axis":{"y":"independent","x":"independent"}}
},
{
 "width":460,"height":275,
 "title":{"text":"B","anchor":"start","frame":"group","dx":-113.5,"offset":4.5,"baseline":"alphabetic","fontSize":19,"fontWeight":"bold","color":"#111111"},
 "layer":[
   {"data":{"name":"envB"},
    "mark":{"type":"area","interpolate":"monotone"},
    "encoding":{
     "x":{"field":"t","type":"quantitative","scale":{"domain":[0,2000],"nice":false},
          "axis":{"orient":"bottom","offset":11,"values":[0,500,1000,1500,2000],"format":"d","tickSize":12,"labelPadding":8,"title":"Time (min)","titleBaseline":"alphabetic","titleY":59}},
     "y":{"field":"lo","type":"quantitative","scale":{"domain":[-0.02,0.08],"range":[262.5,0],"nice":false,"zero":false},
          "axis":{"orient":"left","offset":18.5,"values":[-0.02,0,0.02,0.04,0.06,0.08],"format":".2f","title":"Respiration rate (μmolO₂ min⁻¹)","titleAngle":270,"titleBaseline":"middle","titleAlign":"center","titleX":-81.5,"titleY":130}},
     "y2":{"field":"hi"},
     "color":{"field":"g","type":"nominal","legend":null},
     "opacity":{"field":"g","type":"nominal","scale":{"domain":["U","I"],"range":[0.3,0.42]},"legend":null}}},
   {"data":{"name":"ptsB"},
    "mark":{"type":"point","filled":true,"size":40,"opacity":0.45},
    "encoding":{
     "x":{"field":"t","type":"quantitative","scale":{"domain":[0,2000],"nice":false},"axis":null},
     "y":{"field":"v","type":"quantitative","scale":{"domain":[-0.02,0.08],"range":[262.5,0],"nice":false,"zero":false},"axis":null},
     "color":{"field":"g","type":"nominal","legend":null}}},
   {"data":{"name":"mB"},
    "mark":{"type":"area","interpolate":"monotone","opacity":0.55},
    "encoding":{
     "x":{"field":"t","type":"quantitative","scale":{"domain":[0,2000],"nice":false},"axis":null},
     "y":{"field":"lo","type":"quantitative","scale":{"domain":[-0.02,0.08],"range":[262.5,0],"nice":false,"zero":false},"axis":null},
     "y2":{"field":"hi"},
     "fill":{"field":"g","type":"nominal","legend":null}}},
   {"data":{"name":"mB"},
    "mark":{"type":"line","interpolate":"monotone","strokeWidth":2.6},
    "encoding":{
     "x":{"field":"t","type":"quantitative","scale":{"domain":[0,2000],"nice":false},"axis":null},
     "y":{"field":"m","type":"quantitative","scale":{"domain":[-0.02,0.08],"range":[262.5,0],"nice":false,"zero":false},"axis":null},
     "stroke":{"field":"g","type":"nominal","legend":null}}},
   {"data":{"values":[{}]},
    "mark":{"type":"rule","color":"#3b3431","strokeWidth":1.7},
    "encoding":{
     "x":{"datum":-80,"type":"quantitative","scale":{"domain":[0,2000],"nice":false},"axis":null},
     "x2":{"datum":2050},
     "y":{"datum":0,"type":"quantitative","scale":{"domain":[-0.02,0.08],"range":[262.5,0],"nice":false,"zero":false},"axis":null}}},
   {"data":{"name":"temp"},
    "mark":{"type":"line","strokeDash":[0.5,11.2],"strokeWidth":3.2,"strokeCap":"round"},
    "encoding":{
     "x":{"field":"t","type":"quantitative","scale":{"domain":[0,2000],"nice":false},"axis":null},
     "y":{"field":"T","type":"quantitative","scale":{"domain":[15,30],"range":[275,18],"nice":false,"zero":false},
          "axis":{"orient":"right","offset":11.5,"values":[15,20,25,30],"tickSize":9,"labelPadding":2,"title":"Temperature (°C)","titleAngle":270,"titleBaseline":"middle","titleAlign":"center","titleX":56,"titleY":130}},
     "color":{"field":"g","type":"nominal","legend":null}}}
 ],
 "resolve":{"scale":{"y":"independent"},"axis":{"y":"independent","x":"independent"}}
}
]
}
